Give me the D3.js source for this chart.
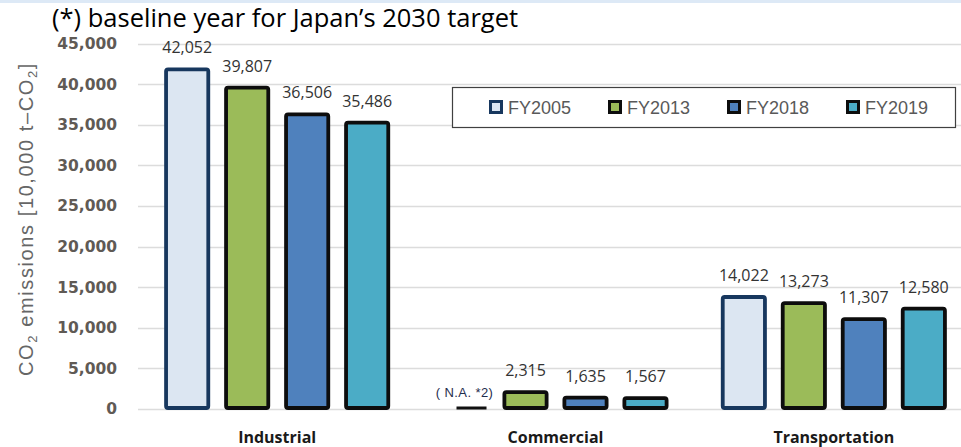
<!DOCTYPE html>
<html>
<head>
<meta charset="utf-8">
<script src="https://cdn.jsdelivr.net/npm/d3@7"></script>
<style>
  html, body { margin: 0; padding: 0; background: #fff; }
  svg { display: block; }
</style>
</head>
<body>
<svg id="chart" width="961" height="447"></svg>
<script>
const categories = ["Industrial", "Commercial", "Transportation"];
const seriesNames = ["FY2005", "FY2013", "FY2018", "FY2019"];
const fy2005 = [42052, null, 14022];
const fy2013 = [39807, 2315, 13273];
const fy2018 = [36506, 1635, 11307];
const fy2019 = [35486, 1567, 12580];
const yTicks = [0, 5000, 10000, 15000, 20000, 25000, 30000, 35000, 40000, 45000];
const naLabel = "( N.A. *2)";
const titleText = "(*) baseline year for Japan\u2019s 2030 target";

const seriesValues = [fy2005, fy2013, fy2018, fy2019];
const fills = ["#dce6f2", "#9bbb59", "#4f81bd", "#4bacc6"];
const strokes = ["#17375e", "#0d0d0d", "#0d0d0d", "#0d0d0d"];

const svg = d3.select("#chart");

// top strip
svg.append("rect").attr("x", 0).attr("y", 0).attr("width", 961).attr("height", 3).attr("fill", "#dde9f6");

const y = d3.scaleLinear().domain([0, 45000]).range([409, 43.5]);
const x0 = d3.scaleBand().domain(categories).range([138, 973]).padding(0);
const x1 = d3.scaleBand().domain(seriesNames).range([-113, 113]).paddingInner(0.233).paddingOuter(0);

// gridlines
svg.append("g").selectAll("line").data(yTicks).join("line")
  .attr("x1", 138).attr("x2", 961)
  .attr("y1", d => Math.round(y(d)) + 0.5).attr("y2", d => Math.round(y(d)) + 0.5)
  .attr("stroke", "#dcdcdc").attr("stroke-width", 1.5);

// y axis tick labels
const yAxis = d3.axisLeft(y).tickValues(yTicks).tickFormat(d3.format(",")).tickSize(0).tickPadding(0);
const ya = svg.append("g").attr("transform", "translate(117,0)").call(yAxis);
ya.select(".domain").remove();
ya.selectAll("text")
  .attr("font-family", "DejaVu Sans").attr("font-weight", "bold").attr("font-size", 15.5)
  .attr("fill", "#5f5a55");

// y axis title
const yt = svg.append("text")
  .attr("transform", "translate(33,219) rotate(-90)")
  .attr("text-anchor", "middle")
  .attr("font-family", "Liberation Sans").attr("font-size", 20).attr("fill", "#666")
  .attr("letter-spacing", 1.6);
yt.append("tspan").text("CO");
yt.append("tspan").attr("font-size", 13).attr("dy", 4).text("2");
yt.append("tspan").attr("dy", -4).text(" emissions [10,000 t\u2013CO");
yt.append("tspan").attr("font-size", 13).attr("dy", 4).text("2");
yt.append("tspan").attr("dy", -4).text("]");

// bars
const groups = svg.append("g").selectAll("g").data(categories).join("g")
  .attr("transform", d => `translate(${x0(d) + x0.bandwidth() / 2},0)`);

const sw = 3.8;
groups.each(function(cat, ci) {
  const g = d3.select(this);
  seriesNames.forEach((s, si) => {
    const v = seriesValues[si][ci];
    const bx = x1(s);
    const bw = x1.bandwidth();
    if (v == null) {
      g.append("line")
        .attr("x1", bx + 14).attr("x2", bx + bw - 2)
        .attr("y1", y(0) - 1).attr("y2", y(0) - 1)
        .attr("stroke", "#111").attr("stroke-width", 3);
      g.append("text")
        .attr("x", bx + bw / 2 - 1).attr("y", y(0) - 12)
        .attr("text-anchor", "middle")
        .attr("font-family", "Liberation Sans").attr("font-size", 13).attr("letter-spacing", 0.4)
        .attr("fill", "#1f2d4d")
        .text(naLabel);
      return;
    }
    g.append("rect")
      .attr("x", bx + sw / 2).attr("width", bw - sw)
      .attr("y", y(v) + sw / 2).attr("height", y(0) - y(v) - sw / 2 - 1)
      .attr("rx", 2).attr("ry", 2)
      .attr("fill", fills[si]).attr("stroke", strokes[si]).attr("stroke-width", sw);
    g.append("text")
      .attr("x", bx + bw / 2).attr("y", y(v) - 14)
      .attr("text-anchor", "middle")
      .attr("font-family", "Open Sans").attr("font-size", 16).attr("fill", "#333")
      .text(d3.format(",")(v));
  });
});

// category labels
svg.append("g").selectAll("text").data(categories).join("text")
  .attr("x", d => x0(d) + x0.bandwidth() / 2).attr("y", 443)
  .attr("text-anchor", "middle")
  .attr("font-family", "Open Sans").attr("font-weight", "bold").attr("font-size", 16)
  .attr("fill", "#1a1a1a")
  .text(d => d);

// legend
svg.append("rect").attr("x", 452.5).attr("y", 87.5).attr("width", 503).attr("height", 40)
  .attr("fill", "#fff").attr("stroke", "#404040").attr("stroke-width", 1.2);
const lg = svg.append("g").selectAll("g").data(seriesNames).join("g")
  .attr("transform", (d, i) => `translate(${489 + i * 119},107)`);
lg.append("rect").attr("x", 1.5).attr("y", -5.5).attr("width", 11).attr("height", 11)
  .attr("fill", (d, i) => fills[i]).attr("stroke", (d, i) => strokes[i]).attr("stroke-width", 3);
lg.append("text").attr("x", 19).attr("y", 6.5)
  .attr("font-family", "Liberation Sans").attr("font-size", 18).attr("fill", "#595959")
  .text(d => d);

// title
svg.append("text").attr("x", 52).attr("y", 26.5)
  .attr("font-family", "Open Sans").attr("font-size", 25.5).attr("fill", "#000")
  .text(titleText);
</script>
</body>
</html>
